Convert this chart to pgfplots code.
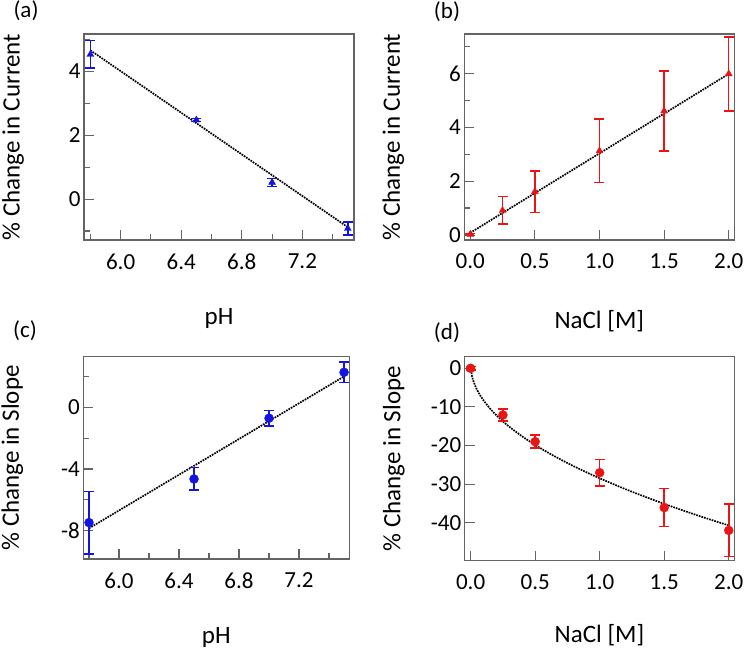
\documentclass[border=0pt]{standalone}
\usepackage{fontspec}
\setmainfont{Carlito}
\usepackage{pgfplots}
\pgfplotsset{compat=1.18}
\definecolor{ptblue}{RGB}{20,20,225}
\definecolor{ptred}{RGB}{235,20,20}
\definecolor{frame}{RGB}{100,100,100}

\pgfplotsset{
  panel/.style={
    scale only axis,
    anchor=south west,
    axis line style={frame, line width=1.1pt},
    tick style={frame, line width=1.1pt},
    major tick length=10pt,
    minor tick length=6pt,
    tick align=inside,
    xtick pos=bottom,
    ytick pos=left,
    tick label style={font=\fontsize{23}{26}\selectfont},
    xticklabel style={yshift=-10pt},
    label style={font=\fontsize{25}{28}\selectfont},
    xlabel style={at={(axis description cs:0.5,0)}, anchor=center, yshift=-78pt},
    ylabel style={at={(axis description cs:-0.263,0.5)}, anchor=center},
    clip=false,
  },
  fitline/.style={black, densely dotted, line width=1.7pt, no marks},
  ebars/.style={error bars/.cd, y dir=both, y explicit,
    error bar style={line width=1.5pt, #1},
    error mark options={line width=1.5pt, mark size=5pt, #1, rotate=90}},
}

\begin{document}
\begin{tikzpicture}
\path[use as bounding box] (0,0) rectangle (745pt,651pt);

\node at (26pt,640pt) {\fontsize{23}{26}\selectfont (a)};
\node at (447pt,639pt) {\fontsize{23}{26}\selectfont (b)};
\node at (25pt,320pt) {\fontsize{23}{26}\selectfont (c)};
\node at (447pt,318pt) {\fontsize{23}{26}\selectfont (d)};

% (a) current vs pH
\begin{axis}[panel, at={(84pt,411pt)}, width=270pt, height=206pt,
  xmin=5.758, xmax=7.541, ymin=-1.28, ymax=5.16,
  xtick={6.0,6.4,6.8,7.2}, xticklabels={6.0,6.4,6.8,7.2},
  minor xtick={5.8,6.2,6.6,7.0,7.4},
  ytick={0,2,4}, yticklabels={0,2,4}, minor ytick={-1,1,3,5},
  xlabel={pH}, ylabel={\% Change in Current}]
\addplot[fitline] coordinates {(5.8,4.65) (7.5,-0.88)};
\addplot[ptblue, only marks, mark=triangle*, mark size=4pt, ebars=ptblue]
  coordinates {
  (5.8,4.52) +- (0,0.43)
  (6.5,2.47) +- (0,0.05)
  (7.0,0.52) +- (0,0.13)
  (7.5,-0.92) +- (0,0.2)
};
\end{axis}

% (b) current vs NaCl
\begin{axis}[panel, at={(464.3pt,411pt)}, width=270pt, height=206pt,
  xmin=-0.046, xmax=2.043, ymin=-0.186, ymax=7.46,
  xtick={0,0.5,1,1.5,2}, xticklabels={0.0,0.5,1.0,1.5,2.0},
  ytick={0,2,4,6}, yticklabels={0,2,4,6}, minor ytick={1,3,5,7},
  xlabel={NaCl [M]}, ylabel={\% Change in Current},
  xlabel style={yshift=-3pt}]
\addplot[fitline] coordinates {(0,0.08) (2,5.98)};
\addplot[ptred, only marks, mark=triangle*, mark size=4pt, ebars=ptred]
  coordinates {
  (0,0.02) +- (0,0.04)
  (0.25,0.91) +- (0,0.51)
  (0.5,1.61) +- (0,0.77)
  (1.0,3.12) +- (0,1.18)
  (1.5,4.6) +- (0,1.48)
  (2.0,5.98) +- (0,1.37)
};
\end{axis}

% (c) slope vs pH
\begin{axis}[panel, at={(83.3pt,92pt)}, width=266pt, height=202.3pt,
  xmin=5.762, xmax=7.535, ymin=-9.84, ymax=3.28,
  xtick={6.0,6.4,6.8,7.2}, xticklabels={6.0,6.4,6.8,7.2},
  minor xtick={5.8,6.2,6.6,7.0,7.4},
  ytick={-8,-4,0}, yticklabels={-8,-4,0}, minor ytick={-6,-2,2},
  xlabel={pH}, ylabel={\% Change in Slope},
  ylabel style={at={(axis description cs:-0.267,0.5)}}]
\addplot[fitline] coordinates {(5.8,-7.85) (7.5,2.0)};
\addplot[ptblue, only marks, mark=*, mark size=4.5pt, ebars=ptblue]
  coordinates {
  (5.8,-7.48) +- (0,2.03)
  (6.5,-4.65) +- (0,0.73)
  (7.0,-0.71) +- (0,0.49)
  (7.5,2.27) +- (0,0.66)
};
\end{axis}

% (d) slope vs NaCl
\begin{axis}[panel, at={(464.7pt,90.3pt)}, width=269.6pt, height=204pt,
  xmin=-0.046, xmax=2.043, ymin=-49.85, ymax=3.0,
  xtick={0,0.5,1,1.5,2}, xticklabels={0.0,0.5,1.0,1.5,2.0},
  ytick={-40,-30,-20,-10,0}, yticklabels={-40,-30,-20,-10,0},
  xlabel={NaCl [M]}, ylabel={\% Change in Slope},
  xlabel style={yshift=4pt}]
\addplot[fitline, smooth] coordinates {
  (0,1.0) (0.01,-1.95) (0.02,-3.17) (0.04,-4.9) (0.06,-6.23) (0.08,-7.34)
  (0.1,-8.33) (0.15,-10.43) (0.2,-12.19) (0.25,-13.75) (0.3,-15.16)
  (0.4,-17.66) (0.5,-19.86) (0.6,-21.85) (0.7,-23.68) (0.8,-25.39)
  (0.9,-26.99) (1.0,-28.5) (1.2,-31.32) (1.4,-33.9) (1.6,-36.31)
  (1.8,-38.58) (2.0,-40.72)};
\addplot[ptred, only marks, mark=*, mark size=4.5pt, ebars=ptred]
  coordinates {
  (0,0) +- (0,0.5)
  (0.25,-12.1) +- (0,1.6)
  (0.5,-19.0) +- (0,1.7)
  (1.0,-27.06) +- (0,3.45)
  (1.5,-36.1) +- (0,4.9)
  (2.0,-42.0) +- (0,6.8)
};
\end{axis}
\end{tikzpicture}
\end{document}
